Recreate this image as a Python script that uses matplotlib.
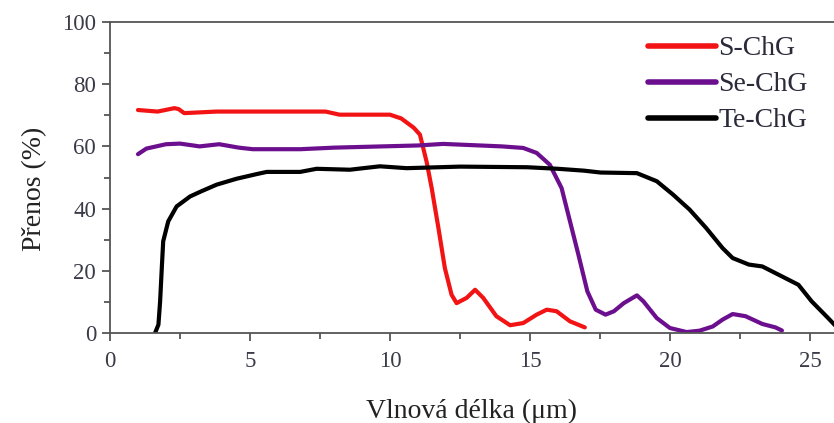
import matplotlib
matplotlib.use("Agg")
import matplotlib.pyplot as plt

plt.rcParams['font.family'] = ['Liberation Serif', 'DejaVu Serif']

# Transmission spectra of chalcogenide glasses
s_x = [1.0, 1.7, 2.3, 2.45, 2.65, 3.8, 5.6, 7.7, 8.2, 10.0, 10.4, 10.7, 10.85,
       11.07, 11.31, 11.49, 11.73, 11.96, 12.2, 12.38, 12.74, 13.04, 13.33,
       13.8, 14.29, 14.76, 15.24, 15.6, 15.95, 16.43, 16.96]
s_y = [71.7, 71.2, 72.3, 72.0, 70.7, 71.2, 71.2, 71.2, 70.2, 70.2, 69.0, 67.0,
       66.0, 63.8, 55.0, 46.6, 33.8, 20.9, 12.3, 9.6, 11.3, 13.9, 11.3,
       5.4, 2.5, 3.2, 5.9, 7.5, 7.0, 3.75, 1.8]

se_x = [1.0, 1.3, 2.0, 2.5, 3.2, 3.9, 4.6, 5.1, 6.8, 8.0, 11.0, 11.9, 14.0,
        14.76, 15.24, 15.71, 16.13, 16.43, 16.73, 17.05, 17.35, 17.7, 18.0,
        18.35, 18.82, 19.05, 19.53, 20.0, 20.6, 21.06, 21.53, 21.88, 22.24,
        22.7, 23.3, 23.77, 24.0]
se_y = [57.5, 59.3, 60.7, 60.9, 60.0, 60.7, 59.6, 59.1, 59.1, 59.6, 60.3, 60.8,
        60.0, 59.5, 57.9, 54.1, 46.6, 35.9, 25.2, 13.4, 7.5, 5.9, 7.0,
        9.6, 12.1, 10.2, 4.8, 1.6, 0.3, 0.75, 2.1, 4.3, 6.1,
        5.4, 2.9, 1.8, 0.8]

te_x = [1.61, 1.73, 1.79, 1.85, 1.9, 2.08, 2.38, 2.86, 3.27, 3.81, 4.52, 5.24,
        5.6, 6.79, 7.38, 8.57, 9.05, 9.64, 10.6, 12.5, 14.9, 16.0, 16.93,
        17.52, 18.82, 19.53, 20.11, 20.7, 21.29, 21.88, 22.24, 22.82, 23.3,
        24.0, 24.59, 25.06, 25.65, 26.0]
te_y = [0.0, 2.7, 10.2, 20.9, 29.5, 35.9, 40.7, 43.9, 45.6, 47.7, 49.6, 51.1,
        51.8, 51.8, 52.8, 52.5, 53.0, 53.6, 53.0, 53.5, 53.3, 52.8, 52.2,
        51.6, 51.4, 48.8, 44.5, 39.7, 33.8, 27.3, 24.1, 22.0, 21.4,
        18.2, 15.5, 10.2, 4.8, 1.5]

labels = ['S-ChG', 'Se-ChG', 'Te-ChG']
colors = ['#f21414', '#6c0f8e', '#000000']

x_ticks = [0, 5, 10, 15, 20, 25]
y_ticks = [0, 20, 40, 60, 80, 100]

fig = plt.figure(figsize=(8.34, 4.23), dpi=100)
ax = fig.add_axes([110 / 834, 1 - 333 / 423, 724 / 834, 311 / 423])

for xs, ys, lab, col in zip([s_x, se_x, te_x], [s_y, se_y, te_y], labels, colors):
    ax.plot(xs, ys, color=col, lw=3.0, label=lab,
            solid_joinstyle='round', solid_capstyle='round')

ax.set_xlim(0, 25.86)
ax.set_ylim(0, 100)
ax.set_xticks(x_ticks)
ax.set_yticks(y_ticks)
ax.set_xticks([2.5, 7.5, 12.5, 17.5, 22.5], minor=True)
ax.set_yticks([10, 30, 50, 70, 90], minor=True)

spine_col = '#555555'
ax.spines['right'].set_visible(False)
for sp in ['left', 'bottom', 'top']:
    ax.spines[sp].set_color(spine_col)
    ax.spines[sp].set_linewidth(1.3)

ax.tick_params(which='major', direction='out', length=6, width=1.3,
               color=spine_col, labelsize=16.5, labelcolor='#3a3a48', pad=4)
ax.tick_params(which='minor', direction='out', length=4, width=1.3,
               color=spine_col)
ax.tick_params(axis='x', which='major', pad=7)

ax.set_xlabel('Vlnová délka (μm)', fontsize=20, color='#222222', labelpad=19)
ax.set_ylabel('Přenos (%)', fontsize=20, color='#222222')
ax.yaxis.set_label_coords(-0.087, 0.465)

leg = ax.legend(loc='upper left', bbox_to_anchor=(648 / 834, 1 - 36 / 423),
                bbox_transform=fig.transFigure, frameon=False, fontsize=20,
                handlelength=2.45, handletextpad=0.08, labelspacing=0.38,
                borderpad=0, borderaxespad=0)
for t in leg.get_texts():
    t.set_color('#2a2a3a')
for ln in leg.get_lines():
    ln.set_linewidth(4.0)

fig.savefig('out.png', dpi=100)
